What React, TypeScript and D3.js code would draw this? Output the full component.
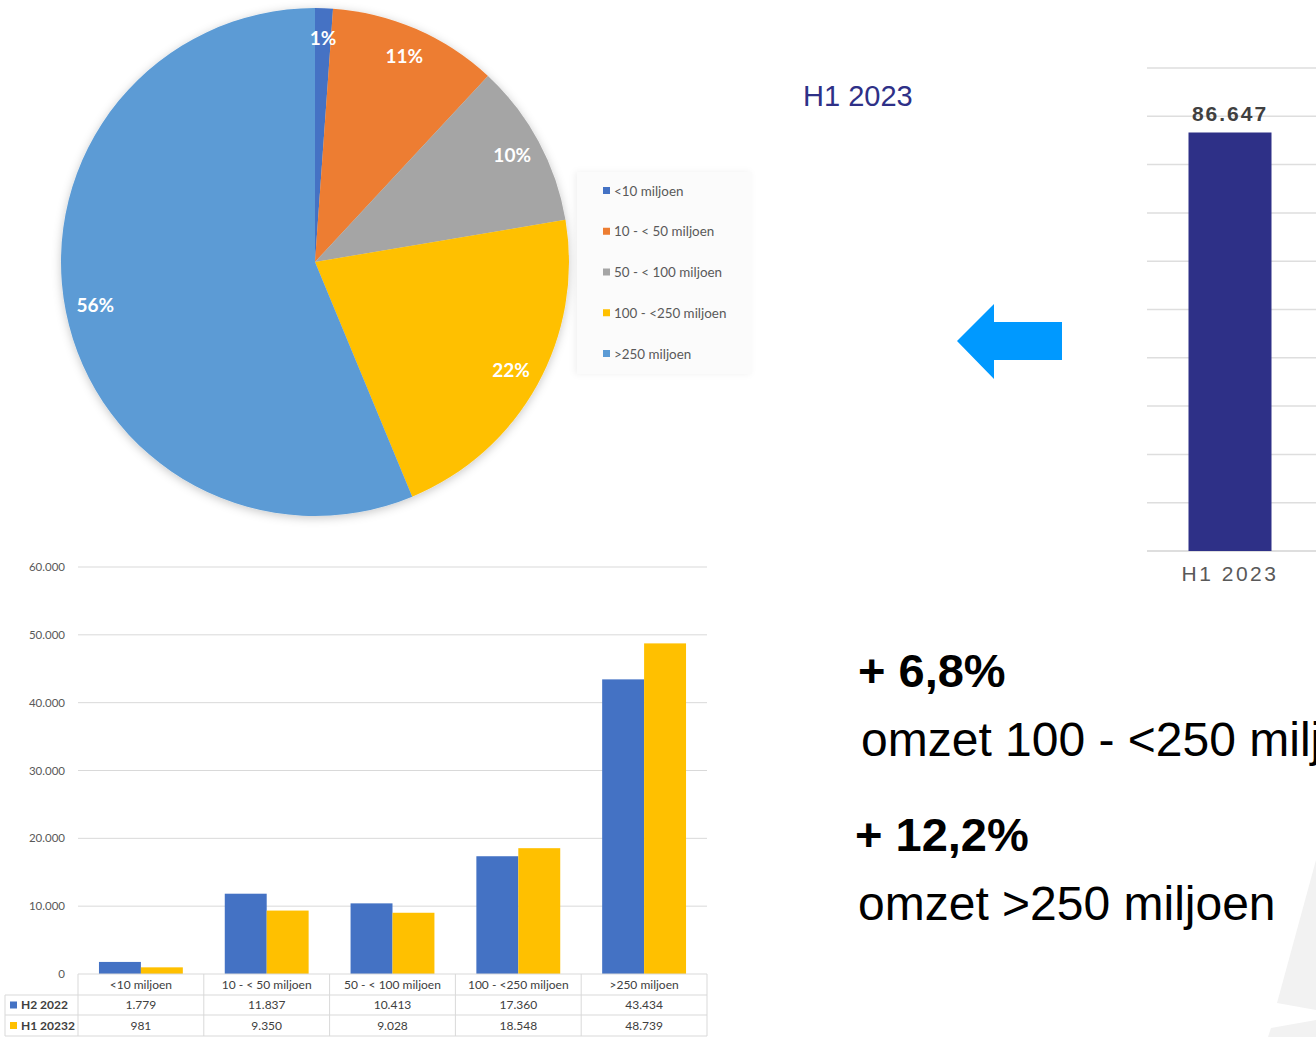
import * as d3 from 'd3';

const categories = ['<10 miljoen', '10 - < 50 miljoen', '50 - < 100 miljoen', '100 - <250 miljoen', '>250 miljoen'];
const legendLabels = ['<10 miljoen', '10 - < 50 miljoen', '50 - < 100 miljoen', '100 - <250 miljoen', '>250 miljoen'];
const pieColors = ['#4472C4', '#ED7D31', '#A5A5A5', '#FFC000', '#5B9BD5'];
const pieLabels = ['1%', '11%', '10%', '22%', '56%'];

const seriesNames = ['H2 2022', 'H1 20232'];
const seriesColors = ['#4472C4', '#FFC000'];
const h2_2022 = [1779, 11837, 10413, 17360, 43434];
const h1_2023 = [981, 9350, 9028, 18548, 48739];
const yTicks = [0, 10000, 20000, 30000, 40000, 50000, 60000];

const totalLabel = ['H1 2023'];
const totalValue = [86647];
const totalTicks = [0, 10000, 20000, 30000, 40000, 50000, 60000, 70000, 80000, 90000, 100000];

const fmt = d3.formatLocale({ decimal: ',', thousands: '.', grouping: [3], currency: ['€', ''] }).format(',');
const calibri = 'Lato, "Open Sans", sans-serif';
const arial = '"Liberation Sans", Arial, sans-serif';

const PieChart = () => {
  const cx = 315, cy = 262, r = 254;
  const pie = d3.pie<number>().sort(null).value(d => d);
  const slices = pie(h1_2023);
  const arc = d3.arc<d3.PieArcDatum<number>>().innerRadius(0).outerRadius(r);
  const labelArc = d3.arc<d3.PieArcDatum<number>>().innerRadius(224).outerRadius(224);
  const legendY = d3.scalePoint<string>().domain(legendLabels).range([191, 354]);

  return (
    <g>
      <g transform={`translate(${cx},${cy})`}>
        <g filter="url(#pieShadow)">
          {slices.map((s, i) => (
            <path key={i} d={arc(s) ?? ''} fill={pieColors[i]} />
          ))}
        </g>
        {slices.map((s, i) => {
          const [x, y] = labelArc.centroid(s);
          return (
            <text key={i} x={x} y={y} dy="0.35em" textAnchor="middle" fill="#fff"
              fontFamily={calibri} fontWeight={700} fontSize={19}>{pieLabels[i]}</text>
          );
        })}
      </g>
      <rect x={577} y={172} width={175} height={202} fill="#fbfbfb" filter="url(#legendShadow)" />
      {legendLabels.map((l, i) => (
        <g key={l} transform={`translate(603,${legendY(l)})`}>
          <rect x={0} y={-4} width={7} height={7} fill={pieColors[i]} />
          <text x={11} y={0} dy="0.35em" fill="#595959" fontFamily={calibri} fontSize={13.4}>{l}</text>
        </g>
      ))}
    </g>
  );
};

const GroupedBars = () => {
  const left = 78, right = 707;
  const x0 = d3.scaleBand<string>().domain(categories).range([left, right]).padding(0);
  const x1 = d3.scaleBand<string>().domain(seriesNames).range([0, x0.bandwidth()]).paddingInner(0).paddingOuter(0.5);
  const y = d3.scaleLinear().domain([0, 60000]).range([974, 567]);
  const series = [h2_2022, h1_2023];
  const rowY = [974, 995, 1015, 1036];
  const border = '#d9d9d9';

  return (
    <g>
      {yTicks.map(t => (
        <g key={t}>
          {t > 0 && <line x1={left} x2={right} y1={y(t)} y2={y(t)} stroke={border} strokeWidth={1} />}
          <text x={65} y={y(t)} dy="0.35em" textAnchor="end" fill="#595959" fontFamily={calibri} fontSize={11.5}>{fmt(t)}</text>
        </g>
      ))}
      {categories.map((c, ci) => (
        <g key={c} transform={`translate(${x0(c)},0)`}>
          {seriesNames.map((s, si) => (
            <rect key={s} x={x1(s)} y={y(series[si][ci])} width={x1.bandwidth()}
              height={y(0) - y(series[si][ci])} fill={seriesColors[si]} />
          ))}
        </g>
      ))}
      {/* data table */}
      <line x1={left} x2={right} y1={rowY[0]} y2={rowY[0]} stroke={border} />
      {rowY.slice(1).map(ry => (
        <line key={ry} x1={5} x2={right} y1={ry} y2={ry} stroke={border} />
      ))}
      <line x1={5} x2={5} y1={rowY[1]} y2={rowY[3]} stroke={border} />
      {[...categories.map(c => x0(c) as number), right].map((bx, i) => (
        <line key={i} x1={bx} x2={bx} y1={rowY[0]} y2={rowY[3]} stroke={border} />
      ))}
      {categories.map((c, ci) => {
        const mx = (x0(c) as number) + x0.bandwidth() / 2;
        return (
          <g key={c} fill="#404040" fontFamily={calibri} fontSize={12} textAnchor="middle">
            <text x={mx} y={(rowY[0] + rowY[1]) / 2} dy="0.35em">{c}</text>
            {series.map((vals, si) => (
              <text key={si} x={mx} y={(rowY[si + 1] + rowY[si + 2]) / 2} dy="0.35em">{fmt(vals[ci])}</text>
            ))}
          </g>
        );
      })}
      {seriesNames.map((s, si) => {
        const my = (rowY[si + 1] + rowY[si + 2]) / 2;
        return (
          <g key={s}>
            <rect x={10} y={my - 3.5} width={7} height={7} fill={seriesColors[si]} />
            <text x={21} y={my} dy="0.35em" fill="#404040" fontFamily={calibri} fontWeight={700} fontSize={12}>{s}</text>
          </g>
        );
      })}
    </g>
  );
};

const TotalBar = () => {
  const x = d3.scaleBand<string>().domain(totalLabel).range([1147, 1313]).paddingInner(0.5).paddingOuter(0.233);
  const y = d3.scaleLinear().domain([0, 100000]).range([551, 68]);
  return (
    <g>
      {totalTicks.map(t => (
        <line key={t} x1={1147} x2={1320} y1={y(t)} y2={y(t)} stroke="#dedede" strokeWidth={t === 0 ? 2 : 1.5} />
      ))}
      {totalLabel.map((l, i) => (
        <g key={l}>
          <rect x={x(l)} y={y(totalValue[i])} width={x.bandwidth()} height={y(0) - y(totalValue[i])} fill="#2E3087" />
          <text x={(x(l) as number) + x.bandwidth() / 2} y={y(totalValue[i]) - 11} textAnchor="middle"
            fill="#404040" fontFamily={arial} fontWeight={700} fontSize={21} letterSpacing={2}>{fmt(totalValue[i])}</text>
          <text x={(x(l) as number) + x.bandwidth() / 2} y={581} textAnchor="middle"
            fill="#595959" fontFamily={arial} fontSize={21} letterSpacing={2.5}>{l}</text>
        </g>
      ))}
    </g>
  );
};

export default function App() {
  return (
    <svg width={1316} height={1037} style={{ position: 'absolute', left: 0, top: 0, display: 'block', background: '#fff' }}>
      <defs>
        <filter id="pieShadow" x="-20%" y="-20%" width="140%" height="140%">
          <feDropShadow dx={0} dy={2} stdDeviation={5} floodColor="#000" floodOpacity={0.22} />
        </filter>
        <filter id="legendShadow" x="-20%" y="-20%" width="140%" height="140%">
          <feDropShadow dx={-2} dy={0} stdDeviation={3} floodColor="#000" floodOpacity={0.06} />
        </filter>
      </defs>

      <polygon points="1316,860 1277,1003 1316,1010" fill="#f2f2f2" />
      <polygon points="1268,1037 1271,1028 1316,1020 1316,1037" fill="#f2f2f2" />

      <PieChart />
      <GroupedBars />
      <TotalBar />

      <text x={803} y={106} fill="#2E3087" fontFamily={arial} fontSize={29}>H1 2023</text>
      <path d="M957,341 L994,304 L994,322 L1062,322 L1062,360 L994,360 L994,379 Z" fill="#0099FF" />

      <g fill="#000" fontFamily={arial}>
        <text x={858} y={687} fontWeight={700} fontSize={47}>+ 6,8%</text>
        <text x={861} y={756} fontSize={48}>omzet 100 - &lt;250 miljoen</text>
        <text x={855} y={851} fontWeight={700} fontSize={47}>+ 12,2%</text>
        <text x={858} y={920} fontSize={48}>omzet &gt;250 miljoen</text>
      </g>
    </svg>
  );
}
